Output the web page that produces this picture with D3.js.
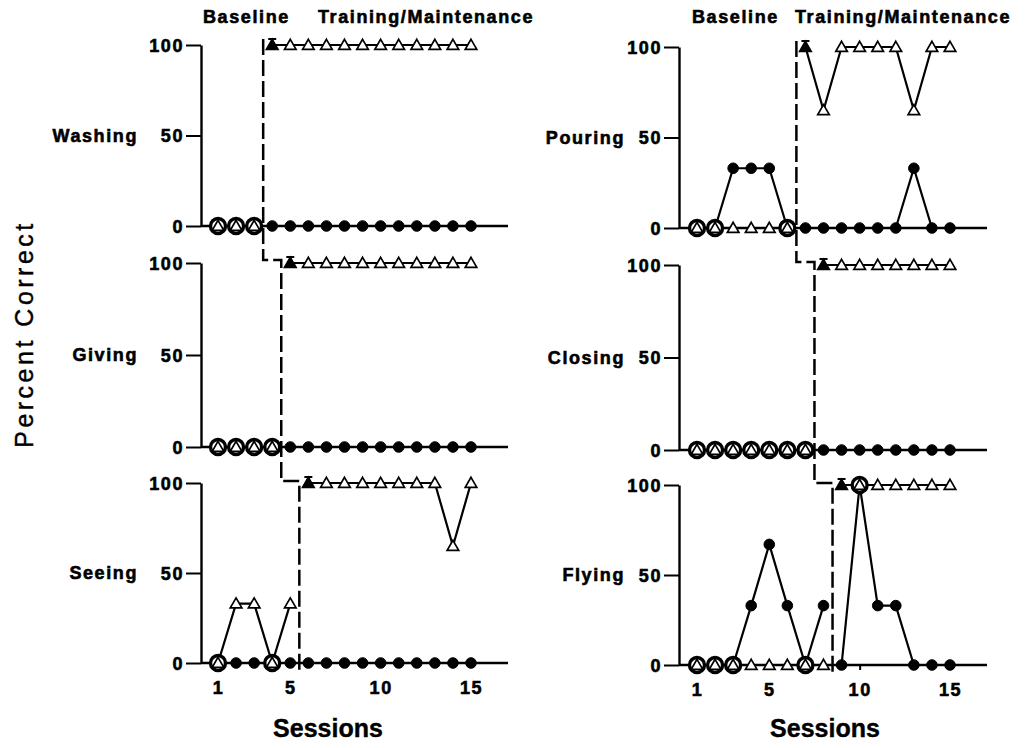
<!DOCTYPE html>
<html>
<head>
  <meta charset="utf-8">
  <title>Percent Correct</title>
  <style>
    body { margin: 0; background: #fff; }
    svg { display: block; }
    text { font-family: "Liberation Sans", Arial, sans-serif; fill: #000; }
    .lbl { font-weight: bold; font-size: 18px; letter-spacing: 1.6px; stroke: #000; stroke-width: 0.6px; }
    .big { font-size: 25px; stroke: #000; stroke-width: 0.4px; }
  </style>
</head>
<body>
  <svg width="1035" height="748"></svg>
  <script src="https://d3js.org/d3.v7.min.js"></script>
  <script>
    const sessions = d3.range(1, 16);
    const sessionTicks = [1, 5, 10, 15];
    const percentTicks = [0, 50, 100];
    const behaviours = ["Washing", "Giving", "Seeing", "Pouring", "Closing", "Flying"];
    const baselineLength = [3, 4, 5, 6, 7, 8];

    // one value per session (percent correct), circles and triangles
    const washingCircles    = [0, 0, 0, 0, 0, 0, 0, 0, 0, 0, 0, 0, 0, 0, 0];
    const washingTriangles  = [0, 0, 0, 100, 100, 100, 100, 100, 100, 100, 100, 100, 100, 100, 100];
    const givingCircles     = [0, 0, 0, 0, 0, 0, 0, 0, 0, 0, 0, 0, 0, 0, 0];
    const givingTriangles   = [0, 0, 0, 0, 100, 100, 100, 100, 100, 100, 100, 100, 100, 100, 100];
    const seeingCircles     = [0, 0, 0, 0, 0, 0, 0, 0, 0, 0, 0, 0, 0, 0, 0];
    const seeingTriangles   = [0, 33, 33, 0, 33, 100, 100, 100, 100, 100, 100, 100, 100, 65, 100];
    const pouringCircles    = [0, 0, 33, 33, 33, 0, 0, 0, 0, 0, 0, 0, 33, 0, 0];
    const pouringTriangles  = [0, 0, 0, 0, 0, 0, 100, 65, 100, 100, 100, 100, 65, 100, 100];
    const closingCircles    = [0, 0, 0, 0, 0, 0, 0, 0, 0, 0, 0, 0, 0, 0, 0];
    const closingTriangles  = [0, 0, 0, 0, 0, 0, 0, 100, 100, 100, 100, 100, 100, 100, 100];
    const flyingCircles     = [0, 0, 0, 33, 67, 33, 0, 33, 0, 100, 33, 33, 0, 0, 0];
    const flyingTriangles   = [0, 0, 0, 0, 0, 0, 0, 0, 100, 100, 100, 100, 100, 100, 100];

    const circleSets = [washingCircles, givingCircles, seeingCircles, pouringCircles, closingCircles, flyingCircles];
    const triangleSets = [washingTriangles, givingTriangles, seeingTriangles, pouringTriangles, closingTriangles, flyingTriangles];

    const svg = d3.select("svg");

    // layout of the two columns and three rows
    const cols = [
      { axisX: 201, xr: [218, 471], xEnd: 508, labelX: 138, rows: [[226, 45], [447, 263], [663, 483]] },
      { axisX: 679, xr: [697, 950], xEnd: 987, labelX: 625, rows: [[228, 47], [450, 265], [665, 485]] }
    ];

    const triSym = d3.symbol().type(d3.symbolTriangle).size(58);

    const panels = behaviours.map((name, i) => ({
      name, base: baselineLength[i], circles: circleSets[i], triangles: triangleSets[i],
      col: cols[Math.floor(i / 3)], row: i % 3
    }));

    panels.forEach(p => {
      const x = d3.scaleLinear().domain([1, 15]).range(p.col.xr);
      const y = d3.scaleLinear().domain([0, 100]).range(p.col.rows[p.row]);
      const g = svg.append("g");

      // y axis
      const ya = g.append("g")
        .attr("transform", `translate(${p.col.axisX},0)`)
        .call(d3.axisLeft(y).tickValues(percentTicks).tickSize(15).tickSizeOuter(0).tickPadding(2));
      ya.select(".domain").attr("stroke", "#000").attr("stroke-width", 2.4);
      ya.selectAll(".tick line").attr("stroke", "#000").attr("stroke-width", 2);
      ya.selectAll(".tick text").attr("class", "lbl").attr("dy", "0.36em").attr("font-family", null).attr("font-size", null);

      // x axis baseline
      g.append("line")
        .attr("x1", p.col.axisX).attr("x2", p.col.xEnd)
        .attr("y1", y(0)).attr("y2", y(0))
        .attr("stroke", "#000").attr("stroke-width", 2.4);

      if (p.row === 2) {
        const xa = g.append("g")
          .attr("transform", `translate(0,${y(0)})`)
          .call(d3.axisBottom(x).tickValues(sessionTicks).tickSize(5).tickPadding(13));
        xa.select(".domain").remove();
        xa.selectAll(".tick line").attr("stroke", "#000").attr("stroke-width", 2);
        xa.selectAll(".tick text").attr("class", "lbl").attr("font-family", null).attr("font-size", null);
      }

      // panel label
      g.append("text").attr("class", "lbl")
        .attr("x", p.col.labelX).attr("y", y(50) + 6)
        .attr("text-anchor", "end").text(p.name);

      // phases: baseline and training/maintenance
      const phases = [sessions.filter(s => s <= p.base), sessions.filter(s => s > p.base)];
      const line = d3.line().x(d => x(d.s)).y(d => y(d.v));
      phases.forEach(ph => {
        [p.triangles, p.circles].forEach(vals => {
          g.append("path")
            .datum(ph.map(s => ({ s, v: vals[s - 1] })))
            .attr("d", line)
            .attr("fill", "none").attr("stroke", "#000").attr("stroke-width", 2.2);
        });
      });

      // circles: drawn open where they sit on a triangle
      const open = s => p.circles[s - 1] === p.triangles[s - 1];
      g.selectAll("circle.c")
        .data(sessions)
        .join("circle")
        .attr("class", "c")
        .attr("cx", s => x(s)).attr("cy", s => y(p.circles[s - 1]))
        .attr("r", s => open(s) ? 7.5 : 5.3)
        .attr("fill", s => open(s) ? "#fff" : "#000")
        .attr("stroke", "#000")
        .attr("stroke-width", s => open(s) ? 3.4 : 1);

      // triangles
      g.selectAll("path.t")
        .data(sessions)
        .join("path")
        .attr("class", "t")
        .attr("transform", s => `translate(${x(s)},${y(p.triangles[s - 1]) + 1})`)
        .attr("d", triSym)
        .attr("fill", s => s === p.base + 1 ? "#000" : "#fff")
        .attr("stroke", "#000").attr("stroke-width", 1.7);

      // criterion mark on first training session
      const fx = x(p.base + 1), fy = y(p.triangles[p.base]);
      g.append("path")
        .attr("d", `M${fx - 4},${fy - 6}H${fx + 4}M${fx},${fy - 6}V${fy - 2}`)
        .attr("stroke", "#000").attr("stroke-width", 2);
    });

    // staircase phase-change line for each column
    cols.forEach((c, ci) => {
      const x = d3.scaleLinear().domain([1, 15]).range(c.xr);
      const bs = baselineLength.slice(ci * 3, ci * 3 + 3).map(b => x(b + 0.5));
      const steps = [c.rows[1][1] - 3, c.rows[2][1] - 2];
      svg.append("path")
        .attr("d", `M${bs[0]},${c.rows[0][1] - 6}V${steps[0]}H${bs[1]}V${steps[1]}H${bs[2]}V${c.rows[2][0] + 9}`)
        .attr("fill", "none").attr("stroke", "#000").attr("stroke-width", 2.5)
        .attr("stroke-dasharray", "16,5");
    });

    // headers
    const headers = [
      { t: "Baseline", x: 203 }, { t: "Training/Maintenance", x: 318 },
      { t: "Baseline", x: 692 }, { t: "Training/Maintenance", x: 795 }
    ];
    svg.selectAll("text.h").data(headers).join("text")
      .attr("class", "lbl h").attr("x", d => d.x).attr("y", 23).text(d => d.t);

    // axis titles
    svg.append("text").attr("class", "big")
      .attr("transform", "translate(33,334) rotate(-90)")
      .attr("text-anchor", "middle").attr("letter-spacing", "3.5px")
      .text("Percent Correct");
    [328, 825].forEach(cx => {
      svg.append("text").attr("class", "big")
        .attr("x", cx).attr("y", 737).attr("text-anchor", "middle")
        .attr("font-weight", "bold").attr("font-size", 26)
        .text("Sessions");
    });
  </script>
</body>
</html>
